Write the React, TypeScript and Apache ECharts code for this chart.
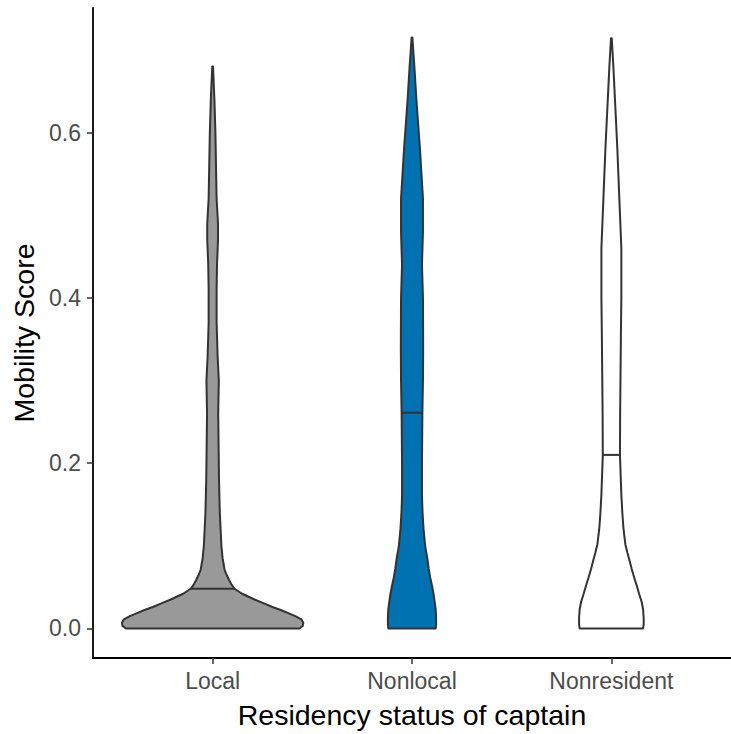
import React, { useEffect, useRef } from "react";
import * as echarts from "echarts";

// Residency groups along the x axis
const categories = ["Local", "Nonlocal", "Nonresident"];
const fillColors = ["#999999", "#0072B2", "#FFFFFF"];

// Violin outlines: [mobility score, half-width in category units]
const localProfile: [number, number][] = [
  [0, 0.435], [0.003, 0.452], [0.007, 0.455], [0.011, 0.445], [0.015, 0.415],
  [0.018, 0.385], [0.022, 0.345], [0.026, 0.3], [0.03, 0.26], [0.035, 0.21],
  [0.042, 0.148], [0.048, 0.11], [0.053, 0.095], [0.059, 0.082], [0.065, 0.07],
  [0.071, 0.06], [0.085, 0.05], [0.1, 0.044], [0.14, 0.036], [0.18, 0.032],
  [0.22, 0.03], [0.26, 0.028], [0.3, 0.031], [0.33, 0.025], [0.37, 0.02],
  [0.41, 0.02], [0.44, 0.022], [0.47, 0.027], [0.49, 0.027], [0.52, 0.02],
  [0.56, 0.017], [0.6, 0.014], [0.64, 0.009], [0.68, 0.002],
];
const nonlocalProfile: [number, number][] = [
  [0, 0.119], [0.006, 0.121], [0.012, 0.121], [0.023, 0.119], [0.032, 0.114],
  [0.042, 0.108], [0.052, 0.1], [0.062, 0.091], [0.072, 0.084], [0.083, 0.078],
  [0.1, 0.066], [0.12, 0.058], [0.14, 0.053], [0.16, 0.05], [0.2, 0.05],
  [0.26, 0.052], [0.3, 0.055], [0.34, 0.056], [0.4, 0.055], [0.44, 0.05],
  [0.48, 0.055], [0.52, 0.055], [0.58, 0.04], [0.64, 0.022], [0.68, 0.012],
  [0.715, 0.002],
];
const nonresidentProfile: [number, number][] = [
  [0, 0.159], [0.005, 0.162], [0.013, 0.162], [0.023, 0.159], [0.032, 0.152],
  [0.042, 0.139], [0.052, 0.127], [0.062, 0.114], [0.072, 0.102], [0.083, 0.09],
  [0.092, 0.08], [0.102, 0.07], [0.112, 0.065], [0.123, 0.06], [0.14, 0.055],
  [0.162, 0.05], [0.21, 0.043], [0.26, 0.044], [0.31, 0.046], [0.36, 0.048],
  [0.4, 0.05], [0.46, 0.05], [0.52, 0.04], [0.58, 0.03], [0.64, 0.018],
  [0.68, 0.01], [0.714, 0.002],
];
const profiles = [localProfile, nonlocalProfile, nonresidentProfile];

// Median mobility score of each group
const medians = [0.048, 0.261, 0.21];

const yTicks = [0, 0.2, 0.4, 0.6];

const FONT = "'Liberation Sans', Arial, Helvetica, sans-serif";
const OUTLINE = "#333333";

function halfWidthAt(profile: [number, number][], v: number): number {
  for (let k = 0; k < profile.length - 1; k++) {
    const [v0, w0] = profile[k];
    const [v1, w1] = profile[k + 1];
    if (v >= v0 && v <= v1) {
      const t = (v - v0) / (v1 - v0);
      return w0 + t * (w1 - w0);
    }
  }
  return 0;
}

export default function App() {
  const ref = useRef<HTMLDivElement>(null);

  useEffect(() => {
    if (!ref.current) return;
    const chart = echarts.init(ref.current, null, { renderer: "svg" });

    const maxScore = Math.max(...profiles.map((p) => p[p.length - 1][0]));
    const pad = maxScore * 0.05;

    chart.setOption({
      animation: false,
      backgroundColor: "#FFFFFF",
      grid: { left: 93, top: 8, width: 643, height: 653, containLabel: false },
      xAxis: {
        type: "value",
        min: 0.4,
        max: 3.6,
        splitLine: { show: false },
        axisLine: { show: true, onZero: false, lineStyle: { color: "#000000", width: 1.8 } },
        axisTick: {
          show: true,
          customValues: [1, 2, 3],
          length: 6,
          lineStyle: { color: OUTLINE, width: 1.5 },
        },
        axisLabel: {
          customValues: [1, 2, 3],
          formatter: (v: number) => categories[Math.round(v) - 1] ?? "",
          color: "#4D4D4D",
          fontSize: 23,
          fontFamily: FONT,
          margin: 11,
        },
        name: "Residency status of captain",
        nameLocation: "middle",
        nameGap: 42,
        nameTextStyle: { color: "#000000", fontSize: 28.5, fontFamily: FONT },
      },
      yAxis: {
        type: "value",
        min: -pad,
        max: maxScore + pad,
        splitLine: { show: false },
        axisLine: { show: true, onZero: false, lineStyle: { color: "#000000", width: 1.8 } },
        axisTick: {
          show: true,
          customValues: yTicks,
          length: 6,
          lineStyle: { color: OUTLINE, width: 1.5 },
        },
        axisLabel: {
          customValues: yTicks,
          formatter: (v: number) => v.toFixed(1),
          color: "#4D4D4D",
          fontSize: 23,
          fontFamily: FONT,
          margin: 12,
        },
        name: "Mobility Score",
        nameLocation: "middle",
        nameGap: 53,
        nameTextStyle: { color: "#000000", fontSize: 28.5, fontFamily: FONT },
      },
      series: [
        {
          type: "custom",
          clip: false,
          data: categories.map((_, i) => [i + 1, medians[i]]),
          encode: { x: 0, y: 1 },
          renderItem: (params: any, api: any) => {
            const i = params.dataIndex;
            const center = api.value(0) as number;
            const prof = profiles[i];
            const right = prof.map(([v, w]) => api.coord([center + w, v]));
            const left = prof
              .slice()
              .reverse()
              .map(([v, w]) => api.coord([center - w, v]));
            const med = medians[i];
            const hw = halfWidthAt(prof, med);
            const a = api.coord([center - hw, med]);
            const b = api.coord([center + hw, med]);
            return {
              type: "group",
              children: [
                {
                  type: "polygon",
                  shape: { points: right.concat(left) },
                  style: {
                    fill: fillColors[i],
                    stroke: OUTLINE,
                    lineWidth: 2,
                    lineJoin: "round",
                  },
                },
                {
                  type: "line",
                  shape: { x1: a[0], y1: a[1], x2: b[0], y2: b[1] },
                  style: { stroke: OUTLINE, lineWidth: 2 },
                },
              ],
            };
          },
        },
      ],
    });

    return () => chart.dispose();
  }, []);

  return (
    <div
      ref={ref}
      style={{ position: "fixed", left: 0, top: 0, width: 731, height: 734, background: "#FFFFFF" }}
    />
  );
}
